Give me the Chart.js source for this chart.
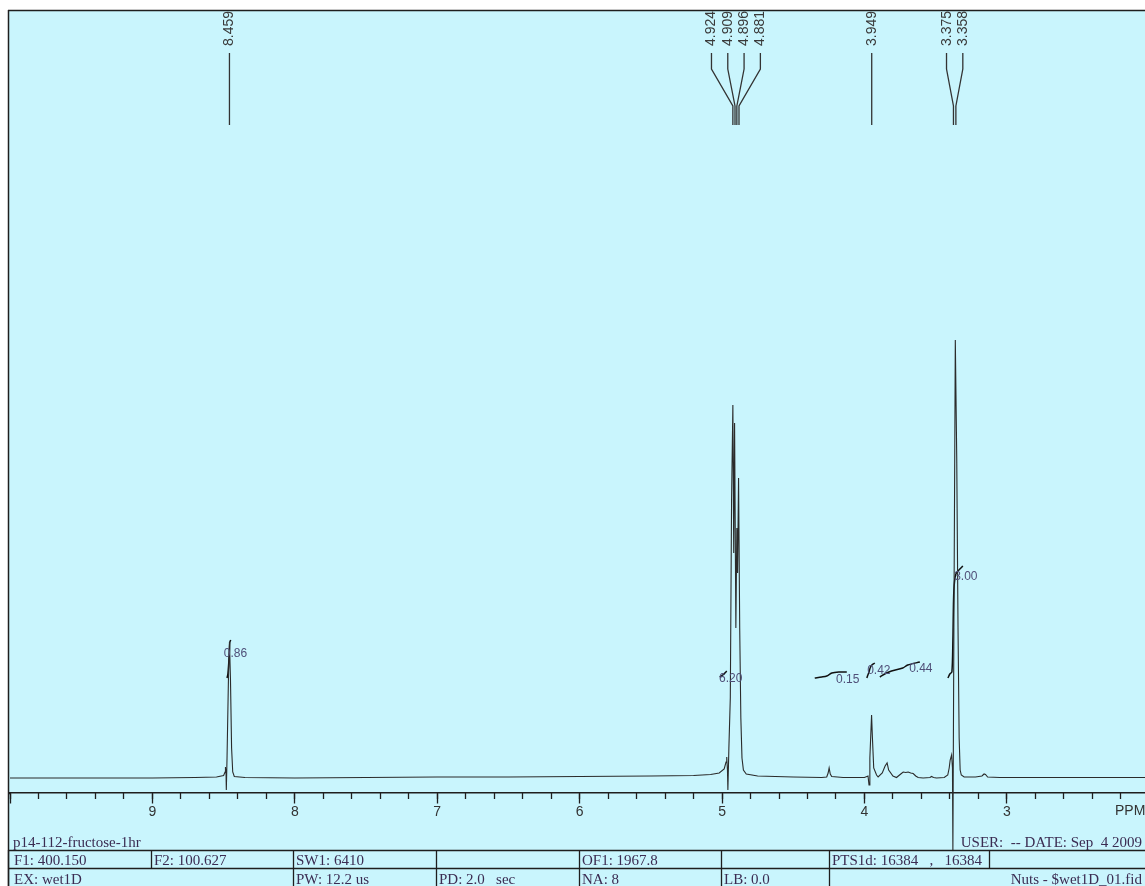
<!DOCTYPE html>
<html><head><meta charset="utf-8">
<script src="https://cdn.jsdelivr.net/npm/chart.js@4.4.0/dist/chart.umd.min.js"></script>
<style>html,body{margin:0;padding:0;background:#fff;}canvas{display:block;}</style>
</head><body>
<canvas id="c" width="1145" height="886"></canvas>
<script>
// ---- spectrum (chemical shift in ppm, intensity in arbitrary units) ----
const specPpm = [10.00,9.50,9.00,8.70,8.55,8.50,8.490,8.487,8.483,8.481,8.476,8.466,8.459,8.452,8.444,8.436,8.425,8.35,8.00,7.50,7.00,6.50,6.00,5.50,5.20,5.08,5.02,4.985,4.972,4.967,4.962,4.959,4.952,4.942,4.933,4.924,4.918,4.912,4.903,4.896,4.891,4.884,4.876,4.868,4.860,4.850,4.830,4.75,4.50,4.30,4.265,4.255,4.248,4.240,4.230,4.15,4.00,3.975,3.968,3.962,3.950,3.944,3.935,3.915,3.904,3.875,3.855,3.841,3.830,3.800,3.775,3.745,3.728,3.710,3.693,3.675,3.658,3.640,3.623,3.588,3.540,3.529,3.515,3.494,3.440,3.415,3.405,3.398,3.388,3.382,3.379,3.372,3.362,3.352,3.343,3.335,3.328,3.320,3.30,3.22,3.175,3.160,3.150,3.135,3.05,2.50,2.03];
const specInt = [0,0,0,0.5,1,2.5,6,11,4,-12,20,100,136,100,30,6,1.5,0.5,0,0.5,1,1,1.5,2,2.5,3.5,5,9,16,21,8,-12,30,80,280,373,225,355,150,250,205,300,150,60,20,8,4,2,1,0.5,1,5,10,4,1.5,0.5,0.5,2,-7,20,63,40,10,3,1,5,12,15,8,2,0.5,4,6,5.5,6,5,4.5,2,0.5,0,0.5,1.5,0.5,0,0.5,3,10,18,23,10,-72,150,438,320,150,40,8,3,1,1,2,4,3.5,1,0.5,0.5,0.5];

// ---- peak picks ----
const peakPpm = [8.459,4.924,4.909,4.896,4.881,3.949,3.375,3.358];
const peakLabels = ['8.459','4.924','4.909','4.896','4.881','3.949','3.375','3.358'];

// ---- integrals ----
const integralPpm = [
  [8.476,8.470,8.464,8.459,8.456,8.450],
  [5.016,4.995,4.980,4.967],
  [4.349,4.300,4.265,4.229,4.180,4.124],
  [3.983,3.976,3.968,3.960,3.948,3.927],
  [3.892,3.845,3.810,3.731,3.696,3.611],
  [3.414,3.400,3.386,3.379,3.372,3.358,3.330,3.309]
];
const integralInt = [
  [100,104,115,128,136,138],
  [101,103,105,107],
  [100,101,102,105,106,106],
  [100,103,106,110,113,115],
  [101,105,107,110,113,116],
  [100,104,106,138,188,204,209,212]
];
const integralLabels = ['0.86','6.20','0.15','0.42','0.44','3.00'];
const integralLabelPpm = [8.417,4.939,4.117,3.899,3.604,3.288];
const integralLabelInt = [124,99,98,107,109,201];

// ---- axis ----
const majorTickValues = [10,9,8,7,6,5,4,3];
const majorTickLabels = ['','9','8','7','6','5','4','3'];
const axisUnitLabel = 'PPM';
const xMin = 2.03, xMax = 10;
const yMin = -108, yMax = 768, axisAt = -15;

// ---- parameter table ----
const sampleName = 'p14-112-fructose-1hr';
const userDate = 'USER:  -- DATE: Sep  4 2009';
const row1Texts = ['F1: 400.150','F2: 100.627','SW1: 6410','','OF1: 1967.8','','PTS1d: 16384   ,   16384'];
const row1Cells = [8,151,293,436,579,721,829,989];
const row2Texts = ['EX: wet1D','PW: 12.2 us','PD: 2.0   sec','NA: 8','LB: 0.0'];
const row2Cells = [8,293,436,579,721,829];
const fileName = 'Nuts - $wet1D_01.fid';

const BG = '#c9f5fd';
const INK = '#2b2b2b';
const SANS = '"Liberation Sans", Arial, Helvetica, sans-serif';
const SERIF = '"Liberation Serif", "Times New Roman", serif';
const TXT = '#3b2c52';

const decor = {
  id: 'decor',
  beforeDraw(chart) {
    const ctx = chart.ctx, W = chart.width, H = chart.height;
    ctx.save();
    ctx.fillStyle = '#ffffff'; ctx.fillRect(0, 0, W, H);
    ctx.fillStyle = BG; ctx.fillRect(8, 10, W - 8, H - 10);
    ctx.restore();
  },
  afterDraw(chart) {
    const ctx = chart.ctx, W = chart.width, H = chart.height;
    const xs = chart.scales.x, ys = chart.scales.y;
    ctx.save();
    // frame
    ctx.strokeStyle = '#1e1e1e'; ctx.lineWidth = 1.5;
    ctx.beginPath();
    ctx.moveTo(8, 10.5); ctx.lineTo(W, 10.5);
    ctx.moveTo(8.5, 10); ctx.lineTo(8.5, H);
    ctx.stroke();
    // axis line extension to frame
    const ay = Math.round(ys.getPixelForValue(axisAt)) + 0.5;
    ctx.lineWidth = 1.5;
    ctx.beginPath(); ctx.moveTo(8, ay); ctx.lineTo(xs.left + 1, ay); ctx.stroke();
    // unit label
    ctx.fillStyle = '#333';
    ctx.font = '14px ' + SANS;
    ctx.textAlign = 'left'; ctx.textBaseline = 'top';
    ctx.fillText(axisUnitLabel, 1115, ay + 11);

    // peak labels
    const px = peakPpm.map(p => xs.getPixelForValue(p));
    const groups = [];
    px.forEach((x, i) => {
      const g = groups[groups.length - 1];
      if (g && Math.abs(x - px[g[g.length - 1]]) < 12) g.push(i); else groups.push([i]);
    });
    ctx.strokeStyle = '#333'; ctx.lineWidth = 1.3;
    ctx.font = '14px ' + SANS;
    ctx.fillStyle = '#3a3a3a';
    groups.forEach(g => {
      const c = g.reduce((s, i) => s + px[i], 0) / g.length;
      g.forEach((i, k) => {
        const lx = g.length > 1 ? c + (k - (g.length - 1) / 2) * 16.3 : px[i];
        ctx.beginPath();
        ctx.moveTo(lx, 53);
        if (g.length > 1) { ctx.lineTo(lx, 69); ctx.lineTo(px[i], 106); }
        ctx.lineTo(px[i], 125);
        ctx.stroke();
        ctx.save();
        ctx.translate(lx + 4, 46);
        ctx.rotate(-Math.PI / 2);
        ctx.textAlign = 'left'; ctx.textBaseline = 'alphabetic';
        ctx.fillText(peakLabels[i], 0, 0);
        ctx.restore();
      });
    });

    // integral labels
    ctx.font = '12px ' + SANS;
    ctx.fillStyle = '#4f4f78';
    ctx.textAlign = 'center'; ctx.textBaseline = 'middle';
    integralLabels.forEach((t, i) => {
      ctx.fillText(t, xs.getPixelForValue(integralLabelPpm[i]), ys.getPixelForValue(integralLabelInt[i]));
    });

    // parameter table
    ctx.strokeStyle = '#1e1e1e'; ctx.lineWidth = 1.3;
    ctx.beginPath();
    ctx.moveTo(8, 850.5); ctx.lineTo(W, 850.5);
    ctx.moveTo(8, 868.5); ctx.lineTo(W, 868.5);
    row1Cells.forEach(x => { ctx.moveTo(x + 0.5, 850); ctx.lineTo(x + 0.5, 868); });
    row2Cells.forEach(x => { ctx.moveTo(x + 0.5, 868); ctx.lineTo(x + 0.5, H); });
    ctx.stroke();
    ctx.fillStyle = TXT;
    ctx.font = '15px ' + SERIF;
    ctx.textBaseline = 'alphabetic';
    ctx.textAlign = 'left';
    ctx.fillText(sampleName, 13, 847);
    row1Texts.forEach((t, i) => { if (t) ctx.fillText(t, row1Cells[i] + (i === 0 ? 6 : 3), 865); });
    row2Texts.forEach((t, i) => { ctx.fillText(t, row2Cells[i] + (i === 0 ? 6 : 3), 884); });
    ctx.textAlign = 'right';
    ctx.fillText(userDate, 1142, 847);
    ctx.fillText(fileName, 1142, 884);
    ctx.restore();
  }
};

const datasets = [{
  data: specPpm.map((p, i) => ({x: p, y: specInt[i]})),
  borderColor: INK, borderWidth: 1.1, pointRadius: 0, tension: 0, fill: false, clip: false
}];
integralPpm.forEach((arr, j) => {
  datasets.push({
    data: arr.map((p, i) => ({x: p, y: integralInt[j][i]})),
    borderColor: '#111', borderWidth: 1.5, pointRadius: 0, tension: 0.3, fill: false
  });
});

new Chart(document.getElementById('c'), {
  type: 'line',
  data: {datasets},
  options: {
    responsive: false, animation: false, devicePixelRatio: 1, events: [],
    layout: {padding: {left: 10, top: 10, right: 0, bottom: 0}},
    plugins: {legend: {display: false}, tooltip: {enabled: false}},
    scales: {
      x: {
        type: 'linear', axis: 'x', reverse: true, min: xMin, max: xMax,
        position: {y: axisAt},
        grid: {display: true, drawOnChartArea: false, drawTicks: true, tickLength: 10, tickColor: '#1e1e1e', tickWidth: 1.3},
        border: {display: true, color: '#1e1e1e', width: 1.5},
        afterBuildTicks: s => { s.ticks = majorTickValues.map(v => ({value: v})); },
        ticks: {
          autoSkip: false, maxRotation: 0, padding: 1, color: '#333',
          font: {family: SANS, size: 14},
          callback: v => { const k = majorTickValues.indexOf(v); return k >= 0 ? majorTickLabels[k] : ''; }
        }
      },
      x2: {
        type: 'linear', axis: 'x', reverse: true, min: xMin, max: xMax,
        position: {y: axisAt},
        grid: {display: true, drawOnChartArea: false, drawTicks: true, tickLength: 6, tickColor: '#1e1e1e', tickWidth: 1.3},
        border: {display: false},
        ticks: {display: false, stepSize: 0.2, includeBounds: false}
      },
      y: {display: false, min: yMin, max: yMax}
    }
  },
  plugins: [decor]
});
</script>
</body></html>
